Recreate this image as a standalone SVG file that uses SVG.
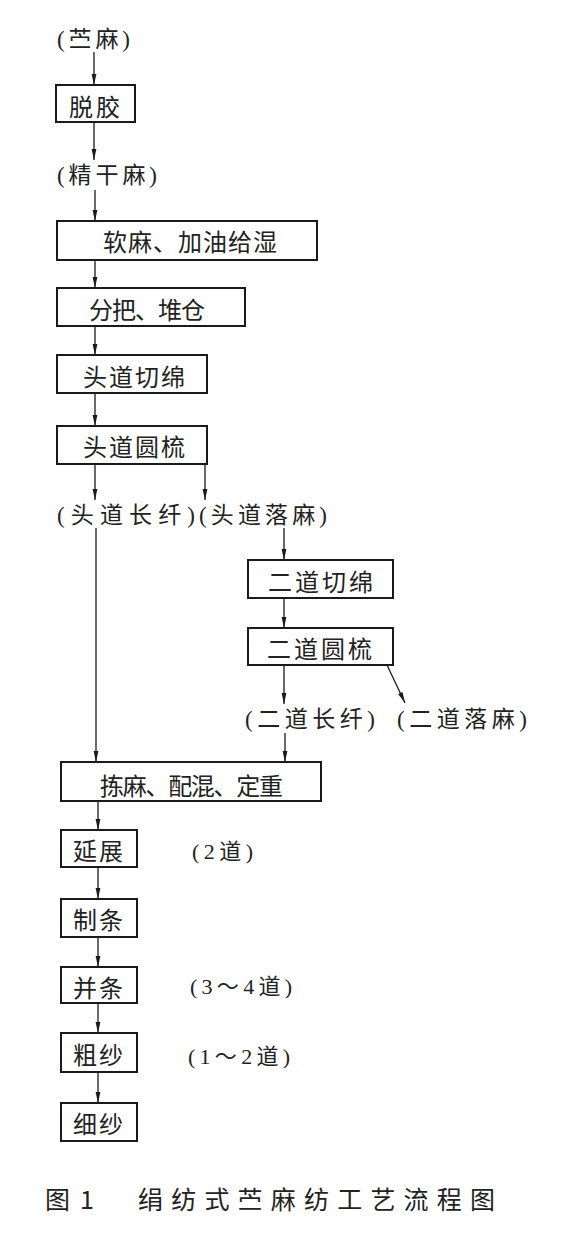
<svg xmlns="http://www.w3.org/2000/svg" width="586" height="1235" viewBox="0 0 586 1235">
<style>
.bg{fill:#fff}
.box{fill:#fff;stroke:#1a1a1a;stroke-width:2}
.t{font-family:"Noto Sans CJK SC","Noto Sans CJK JP",sans-serif;font-size:24px;fill:#222;dominant-baseline:central}
.p{font-family:"Liberation Serif","Noto Sans CJK SC",serif;font-size:23px;fill:#222;dominant-baseline:central}
.s{font-family:"Liberation Serif","Noto Sans CJK SC",serif;font-size:22px;fill:#222;dominant-baseline:central}
.c{font-family:"Noto Sans CJK SC",sans-serif;font-size:25px;fill:#222;dominant-baseline:central}
.e{stroke:#1a1a1a;stroke-width:1.3;fill:none;marker-end:url(#ah)}
</style>
<defs>
<marker id="ah" markerUnits="userSpaceOnUse" markerWidth="12" markerHeight="6" refX="11" refY="3" orient="auto">
<path d="M0,0.6 L11,3 L0,5.4 Z" fill="#1a1a1a"/>
</marker>
</defs>
<rect class="bg" x="0" y="0" width="586" height="1235"/>
<g id="connectors">
<line class="e" x1="94" y1="52" x2="94" y2="85"/>
<line class="e" x1="94" y1="122" x2="94" y2="160"/>
<line class="e" x1="95" y1="190" x2="95" y2="221"/>
<line class="e" x1="95" y1="260" x2="95" y2="288"/>
<line class="e" x1="95" y1="326" x2="95" y2="355"/>
<line class="e" x1="95" y1="393" x2="95" y2="426"/>
<line class="e" x1="95" y1="464" x2="95" y2="500"/>
<line class="e" x1="205" y1="464" x2="205" y2="500"/>
<line class="e" x1="96" y1="528" x2="96" y2="762"/>
<line class="e" x1="284" y1="528" x2="284" y2="560"/>
<line class="e" x1="284" y1="598" x2="284" y2="628"/>
<line class="e" x1="284" y1="665" x2="284" y2="704"/>
<line class="e" x1="387" y1="665" x2="405" y2="703"/>
<line class="e" x1="285" y1="733" x2="285" y2="762"/>
<line class="e" x1="98" y1="801" x2="98" y2="830"/>
<line class="e" x1="98" y1="867" x2="98" y2="899"/>
<line class="e" x1="98" y1="937" x2="98" y2="967"/>
<line class="e" x1="98" y1="1003" x2="98" y2="1033"/>
<line class="e" x1="98" y1="1072" x2="98" y2="1103"/>
</g>
<g id="n-zhuma"><text class="p" x="57" y="39" textLength="73">(苎麻)</text></g>
<g id="n-tuojiao"><rect class="box" x="56" y="85" width="79" height="37"/><text class="t" x="69" y="105" textLength="51">脱胶</text></g>
<g id="n-jinggan"><text class="p" x="57" y="175" textLength="100">(精干麻)</text></g>
<g id="n-ruanma"><rect class="box" x="57" y="221" width="260" height="39"/><text class="t" x="103" y="240" textLength="174">软麻、加油给湿</text></g>
<g id="n-fenba"><rect class="box" x="57" y="288" width="188" height="38"/><text class="t" x="89" y="308" textLength="116">分把、堆仓</text></g>
<g id="n-toudaoqm"><rect class="box" x="57" y="355" width="150" height="38"/><text class="t" x="83" y="375" textLength="102">头道切绵</text></g>
<g id="n-toudaoys"><rect class="box" x="57" y="426" width="150" height="38"/><text class="t" x="83" y="445" textLength="102">头道圆梳</text></g>
<g id="n-toudaocx"><text class="p" x="57" y="515" textLength="138">(头道长纤)</text></g>
<g id="n-toudaolm"><text class="p" x="199" y="515" textLength="128">(头道落麻)</text></g>
<g id="n-erdaoqm"><rect class="box" x="248" y="560" width="145" height="38"/><text class="t" x="268" y="580" textLength="105">二道切绵</text></g>
<g id="n-erdaoys"><rect class="box" x="248" y="628" width="145" height="37"/><text class="t" x="267" y="647" textLength="105">二道圆梳</text></g>
<g id="n-erdaocx"><text class="p" x="245" y="719" textLength="130">(二道长纤)</text></g>
<g id="n-erdaolm"><text class="p" x="397" y="719" textLength="130">(二道落麻)</text></g>
<g id="n-jianma"><rect class="box" x="61" y="762" width="260" height="39"/><text class="t" x="100" y="784" textLength="183">拣麻、配混、定重</text></g>
<g id="n-yanzhan"><rect class="box" x="61" y="830" width="76" height="37"/><text class="t" x="73" y="849" textLength="50">延展</text></g>
<text class="s" x="192" y="851" textLength="61">(2道)</text>
<g id="n-zhitiao"><rect class="box" x="61" y="899" width="76" height="38"/><text class="t" x="73" y="918" textLength="50">制条</text></g>
<g id="n-bingtiao"><rect class="box" x="61" y="967" width="76" height="36"/><text class="t" x="73" y="986" textLength="50">并条</text></g>
<text class="s" x="190" y="986" textLength="102">(3～4道)</text>
<g id="n-cusha"><rect class="box" x="61" y="1033" width="76" height="39"/><text class="t" x="73" y="1053" textLength="50">粗纱</text></g>
<text class="s" x="188" y="1056" textLength="102">(1～2道)</text>
<g id="n-xisha"><rect class="box" x="61" y="1103" width="76" height="38"/><text class="t" x="73" y="1122" textLength="50">细纱</text></g>
<g id="caption">
<text class="c" x="45" y="1198">图</text>
<text class="c" x="80" y="1198" font-family="Liberation Serif">1</text>
<text class="c" x="138" y="1198" textLength="357">绢纺式苎麻纺工艺流程图</text>
</g>
</svg>
